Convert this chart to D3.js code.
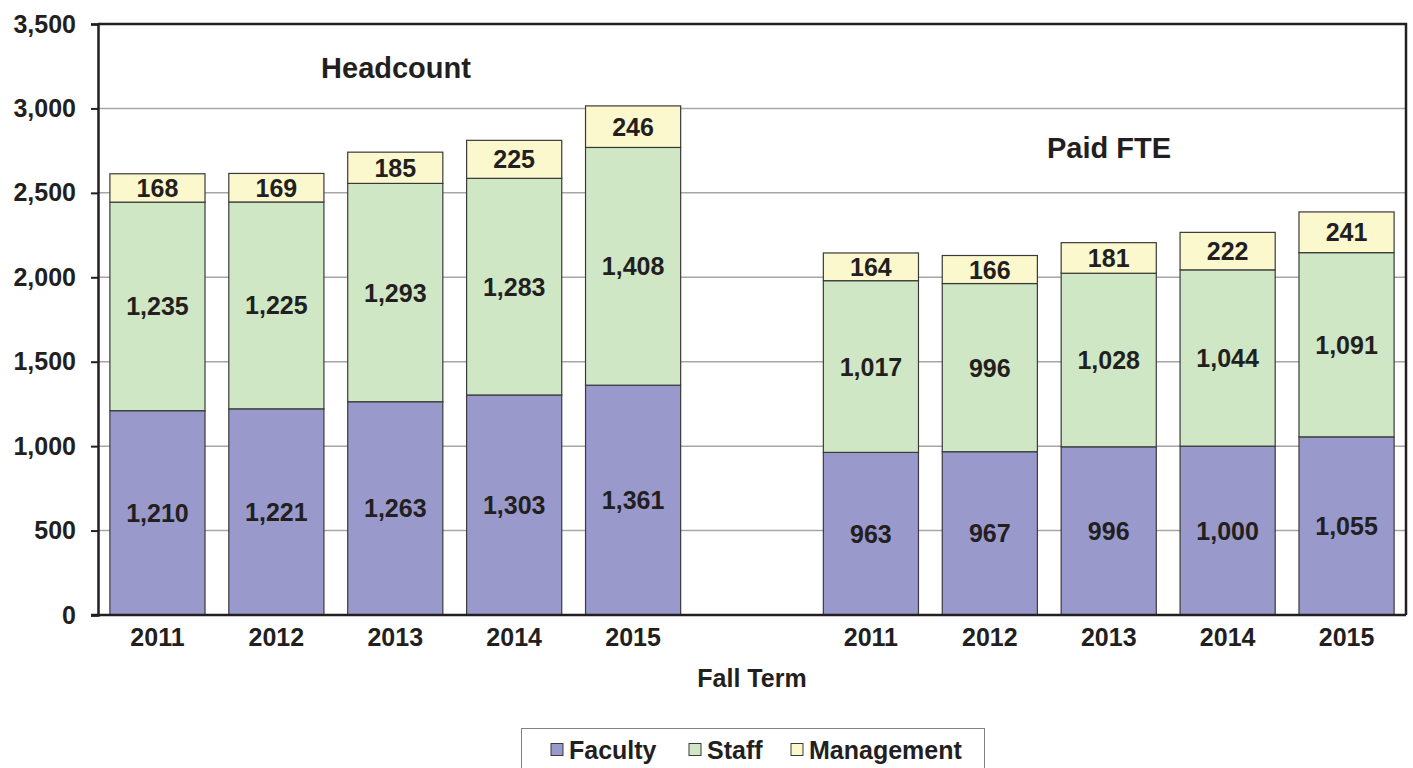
<!DOCTYPE html>
<html>
<head>
<meta charset="utf-8">
<script src="https://cdn.jsdelivr.net/npm/d3@7"></script>
<style>
  body { margin: 0; background: #fff; }
  text { font-family: "Liberation Sans", Arial, sans-serif; font-weight: bold; fill: #231f20; }
</style>
</head>
<body>
<script>
// data
var years = ["2011", "2012", "2013", "2014", "2015"];
var groups = ["Headcount", "Paid FTE"];
var headFaculty = [1210, 1221, 1263, 1303, 1361];
var headStaff = [1235, 1225, 1293, 1283, 1408];
var headMgmt = [168, 169, 185, 225, 246];
var fteFaculty = [963, 967, 996, 1000, 1055];
var fteStaff = [1017, 996, 1028, 1044, 1091];
var fteMgmt = [164, 166, 181, 222, 241];
var seriesNames = ["Faculty", "Staff", "Management"];
var yTicks = [0, 500, 1000, 1500, 2000, 2500, 3000, 3500];

var colors = { Faculty: "#9999cc", Staff: "#d0e7c6", Management: "#fcf8cd" };

var W = 1413, H = 768;
var m = { left: 98, right: 7, top: 24, bottom: 153 };

var rows = [];
years.forEach(function (y, i) {
    rows.push({ key: "H" + y, year: y, Faculty: headFaculty[i], Staff: headStaff[i], Management: headMgmt[i] });
});
rows.push({ key: "gap", year: "", Faculty: 0, Staff: 0, Management: 0 });
years.forEach(function (y, i) {
    rows.push({ key: "F" + y, year: y, Faculty: fteFaculty[i], Staff: fteStaff[i], Management: fteMgmt[i] });
});

var svg = d3.select("body").append("svg").attr("width", W).attr("height", H);

var x = d3.scaleBand()
    .domain(rows.map(function (d) { return d.key; }))
    .range([m.left, W - m.right])
    .paddingInner(0.2)
    .paddingOuter(0.1);

var y = d3.scaleLinear().domain([0, 3500]).range([H - m.bottom, m.top]);

// gridlines
svg.append("g").selectAll("line")
    .data(yTicks.slice(1, -1))
    .enter().append("line")
    .attr("x1", m.left).attr("x2", W - m.right)
    .attr("y1", function (d) { return y(d); })
    .attr("y2", function (d) { return y(d); })
    .attr("stroke", "#a6a6a6").attr("stroke-width", 1.5);

// frame top + right
svg.append("path")
    .attr("d", "M" + m.left + "," + y(3500) + "H" + (W - m.right) + "V" + y(0))
    .attr("fill", "none").attr("stroke", "#231f20").attr("stroke-width", 2.5);

var stacked = d3.stack().keys(seriesNames)(rows.filter(function (d) { return d.key !== "gap"; }));

var layers = svg.append("g").selectAll("g")
    .data(stacked)
    .enter().append("g")
    .attr("fill", function (s) { return colors[s.key]; });

layers.selectAll("rect")
    .data(function (s) { return s; })
    .enter().append("rect")
    .attr("x", function (d) { return x(d.data.key); })
    .attr("width", x.bandwidth())
    .attr("y", function (d) { return y(d[1]); })
    .attr("height", function (d) { return y(d[0]) - y(d[1]); })
    .attr("stroke", "#3a3a3a").attr("stroke-width", 1.2);

layers.selectAll("text")
    .data(function (s) { return s; })
    .enter().append("text")
    .attr("x", function (d) { return x(d.data.key) + x.bandwidth() / 2; })
    .attr("y", function (d) { return (y(d[0]) + y(d[1])) / 2; })
    .attr("dy", "0.36em")
    .attr("text-anchor", "middle")
    .attr("font-size", "25px")
    .text(function (d) { return d3.format(",")(d[1] - d[0]); });

// axes
var yAxis = svg.append("g")
    .attr("transform", "translate(" + m.left + ",0)")
    .call(d3.axisLeft(y).tickValues(yTicks).tickFormat(d3.format(",")).tickSize(7).tickPadding(15));
yAxis.select(".domain").attr("stroke", "#231f20").attr("stroke-width", 2.5);
yAxis.selectAll(".tick line").attr("stroke", "#231f20").attr("stroke-width", 2);
yAxis.selectAll("text").attr("font-size", "25px").style("font-family", "Liberation Sans, Arial, sans-serif").style("font-weight", "bold").attr("fill", "#231f20");

var xAxis = svg.append("g")
    .attr("transform", "translate(0," + y(0) + ")")
    .call(d3.axisBottom(x).tickSize(0).tickPadding(13)
        .tickFormat(function (k) { return k === "gap" ? "" : k.slice(1); }));
xAxis.select(".domain").attr("stroke", "#231f20").attr("stroke-width", 2.5)
    .attr("d", "M" + (m.left - 7) + ",0H" + (W - m.right));
xAxis.selectAll("text").attr("font-size", "25px").style("font-family", "Liberation Sans, Arial, sans-serif").style("font-weight", "bold").attr("fill", "#231f20");

// group titles
svg.append("text").attr("x", 396).attr("y", 78).attr("text-anchor", "middle")
    .attr("font-size", "29px").text(groups[0]);
svg.append("text").attr("x", 1109).attr("y", 158).attr("text-anchor", "middle")
    .attr("font-size", "29px").text(groups[1]);

// axis title
svg.append("text").attr("x", 752).attr("y", 687).attr("text-anchor", "middle")
    .attr("font-size", "25px").text("Fall Term");

// legend
var lg = svg.append("g");
lg.append("rect").attr("x", 521.5).attr("y", 728.5).attr("width", 463).attr("height", 60)
    .attr("fill", "#fff").attr("stroke", "#808080").attr("stroke-width", 1);
var legendX = [551, 689, 791];
seriesNames.forEach(function (s, i) {
    lg.append("rect").attr("x", legendX[i]).attr("y", 743.5).attr("width", 12).attr("height", 12)
        .attr("fill", colors[s]).attr("stroke", "#3a3a3a").attr("stroke-width", 1);
    lg.append("text").attr("x", legendX[i] + 18).attr("y", 759).attr("font-size", "25px").text(s);
});
</script>
</body>
</html>
